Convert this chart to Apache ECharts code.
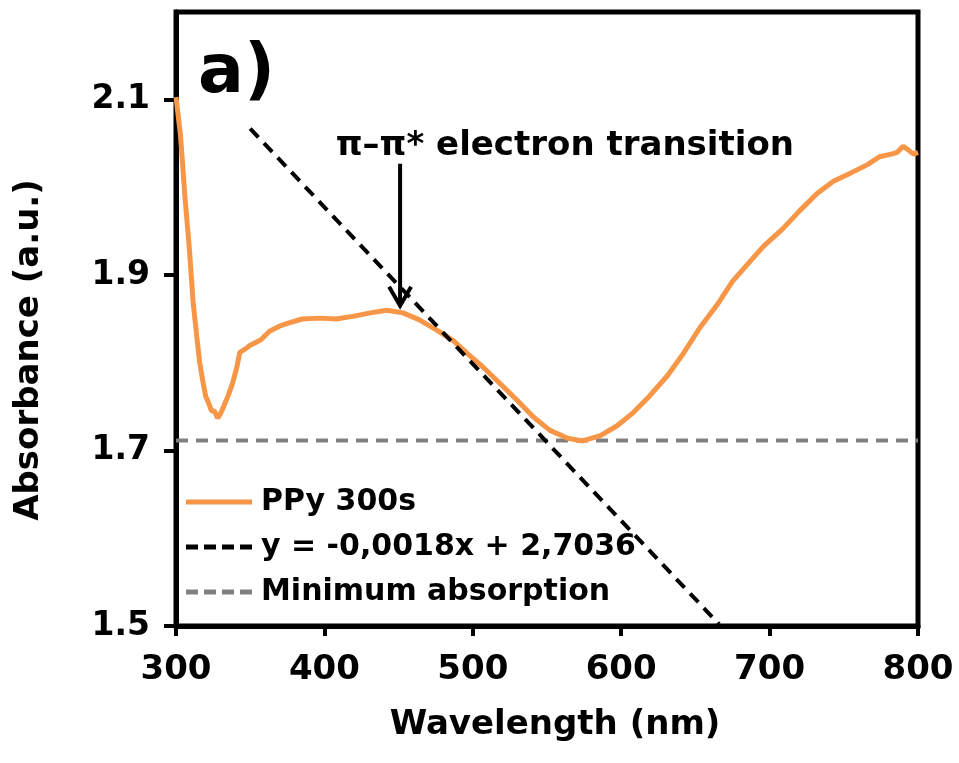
<!DOCTYPE html>
<html>
<head>
<meta charset="utf-8">
<script src="https://cdn.jsdelivr.net/npm/echarts@6/dist/echarts.min.js"></script>
<style>
html,body{margin:0;padding:0;background:#fff;}
#c{width:959px;height:763px;}
</style>
</head>
<body>
<div id="c"></div>
<script>
// ---- data ----
var wavelength = [300,303,306,309,311.5,314,316,318,320,322,324,326,328,330,332,335,338,341,343,346,350,357,363,370,375,385,397,408,419,431,442,453,464,476,487,496,507,518,530,541,552,564,574,586,597,608,619,631,642,653,665,675,687,696,709,720,732,743,754,766,774,782,786,790,794,797,800];
var absorbance = [2.103,2.06,1.99,1.93,1.87,1.83,1.80,1.78,1.762,1.754,1.745,1.745,1.737,1.742,1.750,1.762,1.776,1.795,1.812,1.815,1.820,1.826,1.836,1.842,1.845,1.850,1.851,1.850,1.853,1.857,1.860,1.857,1.849,1.837,1.825,1.811,1.795,1.777,1.757,1.738,1.723,1.714,1.711,1.717,1.728,1.743,1.762,1.785,1.811,1.840,1.867,1.893,1.916,1.933,1.953,1.973,1.993,2.007,2.016,2.026,2.035,2.038,2.040,2.047,2.042,2.038,2.040];
var trendX = [350, 666];
var trendY = [2.067, 1.502];
var minX = [300, 800];
var minY = [1.7114, 1.7114];
var yTicks = [1.5, 1.7, 1.9, 2.1];
var xTicks = [300, 400, 500, 600, 700, 800];
var seriesNames = ['PPy 300s', 'y = -0,0018x + 2,7036', 'Minimum absorption'];
var arrowX = [451, 451];      // wavelength of arrow
var arrowY = [2.027, 1.865];  // from, to (absorbance)
var annotText = 'π\u2013π* electron transition';
var annotPos = [562, 2.047];
var panelLabel = 'a)';

function zip(a, b) { return a.map(function (v, i) { return [v, b[i]]; }); }

var FONT = 'DejaVu Sans';
var SOLID = 'path://M0,0H66V5H0Z';
var DASH = 'path://M0,0H12V5H0Z M18,0H30V5H18Z M36,0H48V5H36Z M54,0H66V5H54Z';
var chart = echarts.init(document.getElementById('c'), null, {renderer: 'canvas'});
var option = {
  animation: false,
  backgroundColor: '#fff',
  textStyle: {fontFamily: FONT, fontWeight: 'bold', color: '#000'},
  grid: {left: 176, right: 41, top: 12, bottom: 137, show: true, borderColor: '#000', borderWidth: 5},
  legend: {
    orient: 'vertical', left: 186, top: 487, padding: 0,
    itemWidth: 66, itemHeight: 5, itemGap: 15, symbolKeepAspect: false,
    textStyle: {fontFamily: FONT, fontWeight: 'bold', fontSize: 30, color: '#000', padding: [0, 0, 0, 4]},
    data: [
      {name: seriesNames[0], icon: SOLID},
      {name: seriesNames[1], icon: DASH},
      {name: seriesNames[2], icon: DASH}
    ]
  },
  xAxis: {
    type: 'value', min: 300, max: 800, interval: 100,
    name: 'Wavelength (nm)', nameLocation: 'middle', nameGap: 82,
    nameTextStyle: {fontFamily: FONT, fontWeight: 'bold', fontSize: 34, color: '#000', padding: [0, 0, 0, 16]},
    axisLine: {show: true, lineStyle: {color: '#000', width: 5}},
    axisTick: {show: true, inside: false, length: 10, lineStyle: {color: '#000', width: 4}},
    axisLabel: {fontFamily: FONT, fontWeight: 'bold', fontSize: 34, color: '#000', margin: 27},
    splitLine: {show: false}
  },
  yAxis: {
    type: 'value', min: 1.5, max: 2.2,
    name: 'Absorbance (a.u.)', nameLocation: 'middle', nameGap: 130,
    nameTextStyle: {fontFamily: FONT, fontWeight: 'bold', fontSize: 34, color: '#000', padding: [0, 62, 0, 0]},
    axisLine: {show: true, lineStyle: {color: '#000', width: 5}},
    axisTick: {show: true, inside: false, length: 12, customValues: yTicks, lineStyle: {color: '#000', width: 4}},
    axisLabel: {fontFamily: FONT, fontWeight: 'bold', fontSize: 33, color: '#000', margin: 26, customValues: yTicks,
      formatter: function (v) { return v.toFixed(1); }},
    splitLine: {show: false}
  },
  series: [
    {name: seriesNames[0], type: 'line', data: zip(wavelength, absorbance), showSymbol: false, symbol: 'none',
     lineStyle: {color: '#F79646', width: 5}, itemStyle: {color: '#F79646'}, z: 3},
    {name: seriesNames[1], type: 'line', data: zip(trendX, trendY), showSymbol: false, symbol: 'none',
     lineStyle: {color: '#000', width: 4, type: [12, 8]}, itemStyle: {color: '#000'}, z: 4},
    {name: seriesNames[2], type: 'line', data: zip(minX, minY), showSymbol: false, symbol: 'none',
     lineStyle: {color: '#808080', width: 4, type: [12, 8]}, itemStyle: {color: '#808080'}, z: 2}
  ]
};
chart.setOption(option);

var p0 = chart.convertToPixel({gridIndex: 0}, [arrowX[0], arrowY[0]]);
var p1 = chart.convertToPixel({gridIndex: 0}, [arrowX[1], arrowY[1]]);
var pt = chart.convertToPixel({gridIndex: 0}, annotPos);
chart.setOption({
  graphic: [
    {type: 'line', shape: {x1: p0[0], y1: p0[1], x2: p1[0], y2: p1[1] - 2}, style: {stroke: '#000', lineWidth: 4}, z: 10},
    {type: 'polyline', shape: {points: [[p1[0] - 11, p1[1] - 19], [p1[0], p1[1]], [p1[0] + 11, p1[1] - 19]]},
     style: {stroke: '#000', lineWidth: 4, fill: null}, z: 10},
    {type: 'text', x: pt[0], y: pt[1], style: {text: annotText, fontFamily: FONT, fontWeight: 'bold', fontSize: 34,
      fill: '#000', align: 'center', verticalAlign: 'middle'}, z: 10},
    {type: 'text', left: 198, top: 40, style: {text: panelLabel, fontFamily: FONT, fontWeight: 'bold', fontSize: 68,
      fill: '#000'}, z: 10}
  ]
});
</script>
</body>
</html>
